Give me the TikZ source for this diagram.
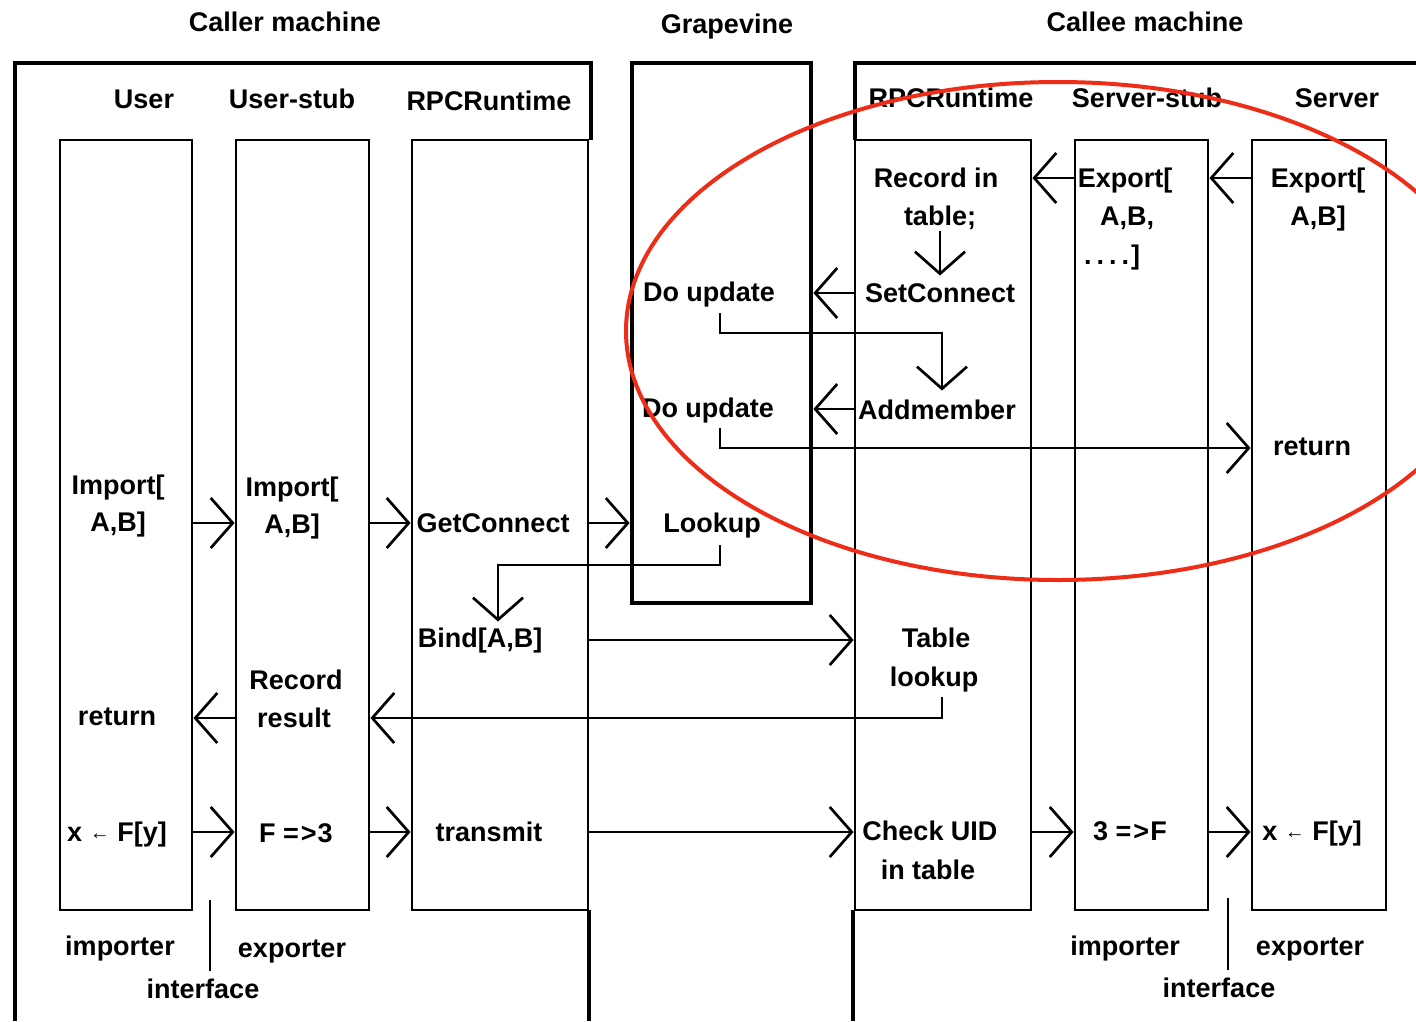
\documentclass[tikz,border=0pt]{standalone}
\usepackage{fontspec}
\setmainfont{Liberation Sans}
\usetikzlibrary{arrows.meta,fit,calc}
\definecolor{ringred}{RGB}{238,45,25}
\tikzset{
  lbl/.style={inner sep=0pt, text height=19pt, text depth=5pt, yshift=-2.7pt,
    font=\fontsize{27}{30}\selectfont\bfseries},
  colbox/.style={draw, line width=2.9pt, inner sep=0pt},
  frame/.style={line width=4.6pt},
  arr/.style={line width=2.7pt, -{Straight Barb[length=22pt,width=50pt]}},
}
\newcommand{\larr}{{\fontsize{20}{20}\selectfont\raisebox{2pt}{←}}}
\begin{document}
\begin{tikzpicture}[x=1pt,y=-1pt]
\useasboundingbox (0,0) rectangle (1416,1021);
\clip (0,0) rectangle (1416,1021);
\fill[white] (0,0) rectangle (1416,1021);

% ---------- titles ----------
\node[lbl] (tcaller) at (285,22) {Caller machine};
\node[lbl] (tgrape) at (727,24) {Grapevine};
\node[lbl] (tcallee) at (1145,22) {Callee machine};

% ---------- frames ----------
\draw[frame] (15,1021) -- (15,63) -- (591,63) -- (591,140);
\draw[frame] (589,910) -- (589,1021);
\draw[frame] (855,140) -- (855,63) -- (1416,63);
\draw[frame] (853,910) -- (853,1021);
\node[draw, line width=4.8pt, inner sep=0pt, fit={(632,63) (811,603)}] (grape) {};

% ---------- column boxes ----------
\node[colbox, fit={(60,140) (192,910)}] (user) {};
\node[colbox, fit={(236,140) (369,910)}] (ustub) {};
\node[colbox, fit={(412,140) (588,910)}] (rpc) {};
\node[colbox, fit={(855,140) (1031,910)}] (crpc) {};
\node[colbox, fit={(1075,140) (1208,910)}] (sstub) {};
\node[colbox, fit={(1252,140) (1386,910)}] (server) {};

% ---------- column titles ----------
\node[lbl] (hUser) at (144,99) {User};
\node[lbl] (hUstub) at (292,99) {User-stub};
\node[lbl] (hRpc) at (489,101) {RPCRuntime};
\node[lbl] (hCrpc) at (951,98) {RPCRuntime};
\node[lbl] (hSstub) at (1147,98) {Server-stub};
\node[lbl] (hServer) at (1337,98) {Server};

% ---------- User ----------
\node[lbl] (uimpA) at (118,485) {Import[};
\node[lbl] (uimpB) at (118,522) {A,B]};
\node[lbl] (uret) at (117,716) {return};
\node[lbl] (ucall) at (117,832) {x \larr\ F[y]};

% ---------- User-stub ----------
\node[lbl] (simpA) at (292,487) {Import[};
\node[lbl] (simpB) at (292,524) {A,B]};
\node[lbl] (srecA) at (296,680) {Record};
\node[lbl] (srecB) at (294,718) {result};
\node[lbl] (smap) at (296,833) {F =\kern2pt>\kern1pt3};

% ---------- caller RPCRuntime ----------
\node[lbl] (getc) at (493,523) {GetConnect};
\node[lbl] (bind) at (480,638) {Bind[A,B]};
\node[lbl] (trans) at (489,832) {transmit};

% ---------- Grapevine ----------
\node[lbl] (doupA) at (709,292) {Do update};
\node[lbl] (doupB) at (708,408) {Do update};
\node[lbl] (lookup) at (712,523) {Lookup};

% ---------- callee RPCRuntime ----------
\node[lbl] (recinA) at (936,178) {Record in};
\node[lbl] (recinB) at (940,216) {table;};
\node[lbl] (setc) at (940,293) {SetConnect};
\node[lbl] (addm) at (937,410) {Addmember};
\node[lbl] (tlkA) at (936,638) {Table};
\node[lbl] (tlkB) at (934,677) {lookup};
\node[lbl] (chkA) at (930,831) {Check UID};
\node[lbl] (chkB) at (928,870) {in table};

% ---------- Server-stub ----------
\node[lbl] (expA) at (1125,178) {Export[};
\node[lbl] (expB) at (1127,216) {A,B,};
\node[lbl] (expC) at (1112,255) {.\kern5pt.\kern5pt.\kern5pt.\kern2pt]};
\node[lbl] (cmap) at (1130,831) {3 =\kern2pt>\kern1pt F};

% ---------- Server ----------
\node[lbl] (sexpA) at (1318,178) {Export[};
\node[lbl] (sexpB) at (1318,216) {A,B]};
\node[lbl] (sret) at (1312,446) {return};
\node[lbl] (scall) at (1312,831) {x \larr\ F[y]};

% ---------- bottom labels ----------
\node[lbl] (impL) at (120,946) {importer};
\node[lbl] (expL) at (292,948) {exporter};
\node[lbl] (ifL) at (203,989) {interface};
\node[lbl] (impR) at (1125,946) {importer};
\node[lbl] (expR) at (1310,946) {exporter};
\node[lbl] (ifR) at (1219,988) {interface};
\coordinate (ifLtop) at (210,900);
\coordinate (ifRtop) at (1228,898);
\draw[line width=2.6pt] (ifLtop) -- ([yshift=9pt]ifL.north -| ifLtop);
\draw[line width=2.6pt] (ifRtop) -- ([yshift=9pt]ifR.north -| ifRtop);

% ---------- import path ----------
\draw[arr] (user.east |- 0,523) -- (ustub.west |- 0,523);
\draw[arr] (ustub.east |- 0,523) -- (rpc.west |- 0,523);
\draw[arr] (rpc.east |- 0,523) -- (grape.west |- 0,523);
\coordinate (lk1) at (720,545);
\coordinate (lk2) at (498,565);
\draw[arr] (lk1) |- (lk2) -- ([yshift=7pt]bind.north -| lk2);
\draw[arr] (rpc.east |- 0,640) -- (crpc.west |- 0,640);
\coordinate (tl1) at (942,697);
\draw[arr] (tl1) |- (ustub.east |- 0,718);
\draw[arr] (ustub.west |- 0,718) -- (user.east |- 0,718);

% ---------- call path ----------
\draw[arr] (user.east |- 0,832) -- (ustub.west |- 0,832);
\draw[arr] (ustub.east |- 0,832) -- (rpc.west |- 0,832);
\draw[arr] (rpc.east |- 0,832) -- (crpc.west |- 0,832);
\draw[arr] (crpc.east |- 0,832) -- (sstub.west |- 0,832);
\draw[arr] (sstub.east |- 0,832) -- (server.west |- 0,832);

% ---------- export path ----------
\draw[arr] (server.west |- 0,178) -- (sstub.east |- 0,178);
\draw[arr] (sstub.west |- 0,178) -- (crpc.east |- 0,178);
\draw[arr] (recinB.south) -- ([yshift=8pt]setc.north);
\draw[arr] (crpc.west |- 0,293) -- (grape.east |- 0,293);
\coordinate (du1) at (720,313);
\coordinate (du1b) at (942,333);
\draw[arr] (du1) |- (du1b) -- ([yshift=10pt]addm.north -| du1b);
\draw[arr] (crpc.west |- 0,409) -- (grape.east |- 0,409);
\coordinate (du2) at (720,428);
\draw[arr] (du2) |- (server.west |- 0,448);

% ---------- red ring ----------
\draw[ringred, line width=4pt] (1058,331) ellipse [x radius=432, y radius=249];
\end{tikzpicture}
\end{document}
